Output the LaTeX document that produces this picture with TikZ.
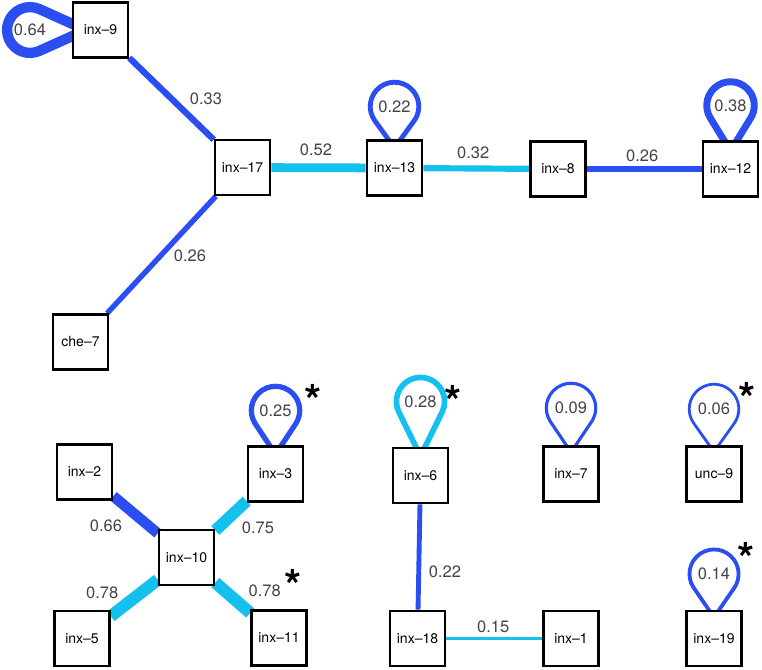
\documentclass[tikz,border=0pt]{standalone}
\usepackage{fontspec}
\setmainfont{TeX Gyre Heros}
\usetikzlibrary{calc, backgrounds}
\definecolor{cdark}{HTML}{2B4EF3}
\definecolor{clight}{HTML}{14C0EE}
\definecolor{ctext}{HTML}{444444}
\tikzset{
  every picture/.style={x=1pt, y=1pt},
  box/.style={draw=black, fill=white, line width=2.6pt, minimum size=55pt, inner sep=0pt, font=\fontsize{14}{14}\selectfont},
  lbl/.style={text=ctext, inner sep=0pt, font=\fontsize{16.5}{16.5}\selectfont},
  star/.style={inner sep=0pt, yshift=-8.5pt, font=\fontsize{44}{44}\selectfont\bfseries},
  wgt/.style={line width={(2+13*#1)*1pt}},
}
% self loop: node, direction, colour, weight, centre distance, label
\newcommand{\selfloop}[6]{
  \pgfmathsetmacro{\lpw}{2+13*#4}
  \pgfmathsetmacro{\lpr}{25.5-\lpw/4}
  \pgfmathsetmacro{\lpb}{25-\lpw}
  \pgfmathsetmacro{\lpa}{acos(\lpr/(#5-\lpb))}
  \coordinate (#1-b) at ($(#1.center)+(#2:\lpb)$);
  \coordinate (#1-c) at ($(#1.center)+(#2:#5)$);
  \draw[#3, line width=\lpw pt, line join=round] (#1-b) -- ($(#1-c)+(#2+180-\lpa:\lpr)$)
    arc[start angle=#2+180-\lpa, end angle=#2-180+\lpa, radius=\lpr] -- cycle;
  \node[lbl] (#1-lbl) at (#1-c) {#6};
}

\begin{document}
\begin{tikzpicture}
  \useasboundingbox (0,0) rectangle (762,669);
  % upper component
  \node[box] (inx9) at (100.5,639) {inx--9};
  \node[box] (inx17) at (242.5,501.5) {inx--17};
  \node[box] (inx13) at (394.5,501) {inx--13};
  \node[box] (inx8) at (558,500) {inx--8};
  \node[box] (inx12) at (730.5,500) {inx--12};
  \node[box] (che7) at (80.5,327) {che--7};
  % lower left component
  \node[box] (inx2) at (84.5,197) {inx--2};
  \node[box] (inx3) at (275.5,195) {inx--3};
  \node[box] (inx10) at (186.5,111.5) {inx--10};
  \node[box] (inx5) at (82,30.5) {inx--5};
  \node[box] (inx11) at (279,31) {inx--11};
  % the rest
  \node[box] (inx6) at (420.5,193.5) {inx--6};
  \node[box] (inx7) at (571,195) {inx--7};
  \node[box] (unc9) at (714,195) {unc--9};
  \node[box] (inx18) at (417.5,30.5) {inx--18};
  \node[box] (inx1) at (571,30.5) {inx--1};
  \node[box] (inx19) at (714,30.5) {inx--19};
  % stars
  \node[star] (st3) at (313,277) {*};
  \node[star] (st11) at (293,92) {*};
  \node[star] (st6) at (453,276) {*};
  \node[star] (st9) at (747,279) {*};
  \node[star] (st19) at (746,119) {*};
  \begin{scope}[on background layer]
    \draw[cdark, wgt=0.33] (inx9) -- node[lbl, shift={(34.5,0)}] {0.33} (inx17);
    \draw[cdark, wgt=0.26] (inx17) -- node[lbl, shift={(28.5,-1.5)}] {0.26} (che7);
    \draw[clight, wgt=0.52] (inx17) -- node[lbl, shift={(-2.5,18)}] {0.52} (inx13);
    \draw[clight, wgt=0.32] (inx13) -- node[lbl, shift={(-3,15.5)}] {0.32} (inx8);
    \draw[cdark, wgt=0.26] (inx8) -- node[lbl, shift={(-2,13)}] {0.26} (inx12);
    \draw[cdark, wgt=0.66] (inx2) -- node[lbl, shift={(-29.5,-11)}] {0.66} (inx10);
    \draw[clight, wgt=0.75] (inx3) -- node[lbl, shift={(27,-12)}] {0.75} (inx10);
    \draw[clight, wgt=0.78] (inx10) -- node[lbl, shift={(-32,5)}] {0.78} (inx5);
    \draw[clight, wgt=0.78] (inx10) -- node[lbl, shift={(32,7)}] {0.78} (inx11);
    \draw[cdark, wgt=0.22] (inx6) -- node[lbl, shift={(26,-15)}] {0.22} (inx18);
    \draw[clight, wgt=0.15] (inx18) -- node[lbl, shift={(-1,11.5)}] {0.15} (inx1);
    \selfloop{inx9}{180}{cdark}{0.64}{70.5}{0.64}
    \selfloop{inx13}{90}{cdark}{0.22}{61.5}{0.22}
    \selfloop{inx12}{90}{cdark}{0.38}{63.5}{0.38}
    \selfloop{inx3}{90}{cdark}{0.25}{63.5}{0.25}
    \selfloop{inx6}{90}{clight}{0.28}{74}{0.28}
    \selfloop{inx7}{90}{cdark}{0.09}{66}{0.09}
    \selfloop{unc9}{90}{cdark}{0.06}{65}{0.06}
    \selfloop{inx19}{90}{cdark}{0.14}{64.5}{0.14}
  \end{scope}
\end{tikzpicture}
\end{document}
